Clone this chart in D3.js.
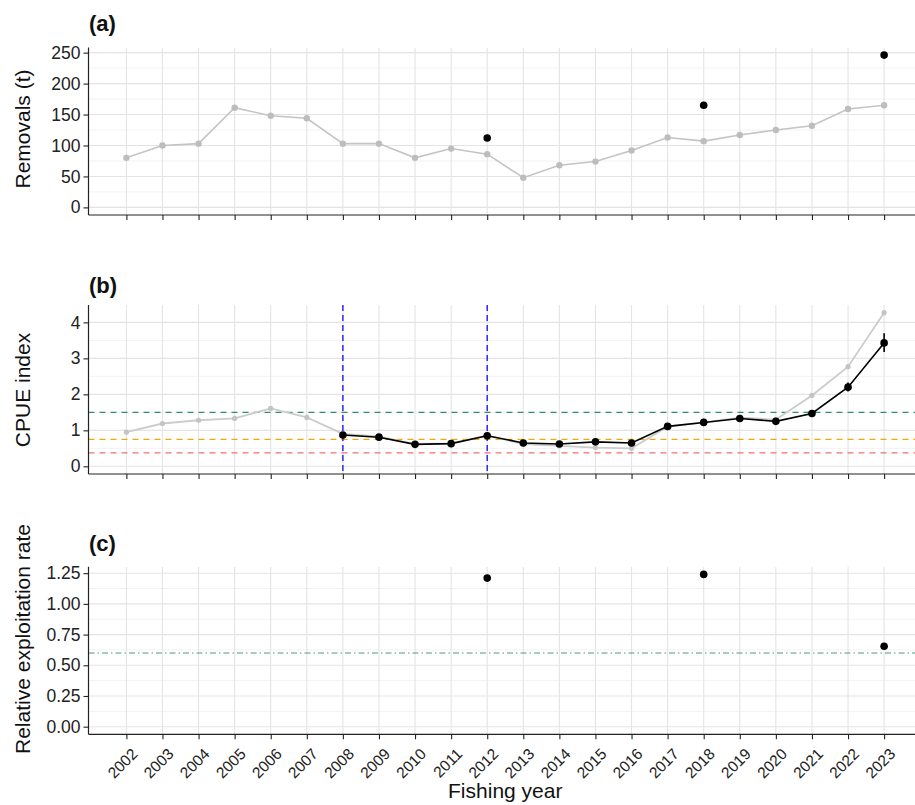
<!DOCTYPE html>
<html>
<head>
<meta charset="utf-8">
<script src="https://cdn.jsdelivr.net/npm/d3@7"></script>
<style>
  html, body { margin: 0; padding: 0; background: #fff; }
  svg text { font-family: "Liberation Sans", Arial, Helvetica, sans-serif; }
</style>
</head>
<body>
<svg id="chart" width="915" height="805"></svg>
<script>
// ---------------- data ----------------
const years = [2002,2003,2004,2005,2006,2007,2008,2009,2010,2011,2012,2013,2014,2015,2016,2017,2018,2019,2020,2021,2022,2023];
const yearLabels = years.map(String);

// (a) removals
const removals = [80,100,103,161,148,144,103,103,80,95,86,48,68,74,92,113,107,117,125,132,159,165];
const removalsHiYears = [2012, 2018, 2023];
const removalsHi = [112, 165, 246];
const removalsTicks = [0, 50, 100, 150, 200, 250];
const removalsMinor = [25, 75, 125, 175, 225];

// (b) CPUE
const cpueAll = [0.95,1.19,1.28,1.33,1.61,1.36,0.90,0.83,0.62,0.64,0.86,0.62,0.57,0.52,0.50,1.10,1.22,1.35,1.30,1.97,2.77,4.27];
const cpueYears = [2008,2009,2010,2011,2012,2013,2014,2015,2016,2017,2018,2019,2020,2021,2022,2023];
const cpue      = [0.87,0.81,0.61,0.63,0.85,0.65,0.62,0.68,0.65,1.11,1.22,1.33,1.25,1.47,2.20,3.43];
const cpueLow   = [0.82,0.77,0.57,0.59,0.80,0.61,0.58,0.64,0.60,1.06,1.17,1.28,1.20,1.41,2.08,3.18];
const cpueHigh  = [0.92,0.86,0.66,0.68,0.90,0.70,0.66,0.73,0.70,1.16,1.27,1.38,1.30,1.54,2.33,3.70];
const cpueTicks = [0, 1, 2, 3, 4];
const cpueMinor = [0.5, 1.5, 2.5, 3.5];
const cpueRefs = [1.5, 0.75, 0.375];
const cpueRefColors = ["#2f8f6f", "#f2aa00", "#f07070"];
const cpueBreakYears = [2008, 2012];

// (c) relative exploitation
const explYears = [2012, 2018, 2023];
const expl = [1.21, 1.24, 0.655];
const explRef = 0.6;
const explTicks = [0, 0.25, 0.5, 0.75, 1.0, 1.25];
const explMinor = [0.125, 0.375, 0.625, 0.875, 1.125];

// ---------------- layout ----------------
const svg = d3.select("#chart");
const left = 88.5, right = 922;
const x = d3.scaleLinear().domain([2002 - 1.05, 2023 + 1.05]).range([left, right]);

function expandDomain(lo, hi) {
  const e = (hi - lo) * 0.05;
  return [lo - e, hi + e];
}

const panels = [
  { top: 47.5, h: 167.5, domain: expandDomain(0, d3.max(removalsHi)), ticks: removalsTicks, minor: removalsMinor,
    fmt: d3.format("d"), title: "(a)", titleY: 31, ylab: "Removals (t)", ylabY: 129 },
  { top: 305, h: 169, domain: expandDomain(0, d3.max(cpueAll)), ticks: cpueTicks, minor: cpueMinor,
    fmt: d3.format("d"), title: "(b)", titleY: 293, ylab: "CPUE index", ylabY: 390 },
  { top: 566.8, h: 167.5, domain: expandDomain(0, d3.max(expl)), ticks: explTicks, minor: explMinor,
    fmt: d3.format(".2f"), title: "(c)", titleY: 551, ylab: "Relative exploitation rate", ylabY: 639 }
];

const clipId = (i) => "clip" + i;
const defs = svg.append("defs");

panels.forEach((p, i) => {
  p.y = d3.scaleLinear().domain(p.domain).range([p.top + p.h, p.top]);
  defs.append("clipPath").attr("id", clipId(i))
    .append("rect").attr("x", left).attr("y", p.top).attr("width", right - left).attr("height", p.h);

  const g = svg.append("g");
  const grid = g.append("g").attr("clip-path", `url(#${clipId(i)})`);
  grid.selectAll("line.minor").data(p.minor).join("line")
    .attr("x1", left).attr("x2", right)
    .attr("y1", d => p.y(d)).attr("y2", d => p.y(d))
    .attr("stroke", "#f1f1f1").attr("stroke-width", 0.9);
  grid.selectAll("line.hmaj").data(p.ticks).join("line")
    .attr("x1", left).attr("x2", right)
    .attr("y1", d => p.y(d)).attr("y2", d => p.y(d))
    .attr("stroke", "#e4e4e4").attr("stroke-width", 1.1);
  grid.selectAll("line.vmaj").data(years).join("line")
    .attr("x1", d => x(d)).attr("x2", d => x(d))
    .attr("y1", p.top).attr("y2", p.top + p.h)
    .attr("stroke", "#e4e4e4").attr("stroke-width", 1.1);

  p.g = g;
  p.plot = g.append("g").attr("clip-path", `url(#${clipId(i)})`);

  const ya = g.append("g").attr("transform", `translate(${left},0)`)
    .call(d3.axisLeft(p.y).tickValues(p.ticks).tickFormat(p.fmt).tickSize(5).tickPadding(3));
  ya.select(".domain").attr("d", `M0,${p.top}V${p.top + p.h}`).attr("stroke", "#222").attr("stroke-width", 1.2);
  ya.selectAll(".tick line").attr("stroke", "#222").attr("stroke-width", 1.1);
  ya.selectAll(".tick text").attr("font-size", 17.5).attr("fill", "#222");

  const xa = g.append("g").attr("transform", `translate(0,${p.top + p.h})`)
    .call(d3.axisBottom(x).tickValues(years).tickFormat(i === 2 ? ((d, k) => yearLabels[k]) : "").tickSize(5));
  xa.select(".domain").attr("d", `M${left},0H${right}`).attr("stroke", "#222").attr("stroke-width", 1.2);
  xa.selectAll(".tick line").attr("stroke", "#222").attr("stroke-width", 1.1);
  if (i === 2) {
    xa.selectAll(".tick text")
      .attr("font-size", 15.5)
      .attr("fill", "#222")
      .attr("text-anchor", "end")
      .attr("dy", 0)
      .attr("transform", "translate(6,15) rotate(-45)");
  } else {
    xa.selectAll(".tick text").remove();
  }

  g.append("text").attr("x", 89).attr("y", p.titleY)
    .attr("font-size", 22).attr("font-weight", "bold").attr("fill", "#111").text(p.title);
  g.append("text")
    .attr("transform", `translate(30,${p.ylabY}) rotate(-90)`)
    .attr("text-anchor", "middle").attr("font-size", 21).attr("fill", "#111").text(p.ylab);
});

// ---------------- panel (a) ----------------
{
  const p = panels[0];
  const data = years.map((yr, k) => ({ yr, v: removals[k] }));
  p.plot.append("path").datum(data)
    .attr("fill", "none").attr("stroke", "#c4c4c4").attr("stroke-width", 1.6)
    .attr("d", d3.line().x(d => x(d.yr)).y(d => p.y(d.v)));
  p.plot.selectAll("circle.g").data(data).join("circle")
    .attr("cx", d => x(d.yr)).attr("cy", d => p.y(d.v)).attr("r", 3.2).attr("fill", "#bdbdbd");
  const hi = removalsHiYears.map((yr, k) => ({ yr, v: removalsHi[k] }));
  p.plot.selectAll("circle.b").data(hi).join("circle")
    .attr("cx", d => x(d.yr)).attr("cy", d => p.y(d.v)).attr("r", 3.8).attr("fill", "#000");
}

// ---------------- panel (b) ----------------
{
  const p = panels[1];
  cpueRefs.forEach((r, k) => {
    p.plot.append("line").attr("x1", left).attr("x2", right)
      .attr("y1", p.y(r)).attr("y2", p.y(r))
      .attr("stroke", cpueRefColors[k]).attr("stroke-width", 1.3).attr("stroke-dasharray", "6,5");
  });
  const all = years.map((yr, k) => ({ yr, v: cpueAll[k] }));
  p.plot.append("path").datum(all)
    .attr("fill", "none").attr("stroke", "#cccccc").attr("stroke-width", 1.8)
    .attr("d", d3.line().x(d => x(d.yr)).y(d => p.y(d.v)));
  p.plot.selectAll("circle.g").data(all).join("circle")
    .attr("cx", d => x(d.yr)).attr("cy", d => p.y(d.v)).attr("r", 2.6).attr("fill", "#c4c4c4");
  cpueBreakYears.forEach(yr => {
    p.plot.append("line").attr("x1", x(yr)).attr("x2", x(yr))
      .attr("y1", p.top).attr("y2", p.top + p.h)
      .attr("stroke", "#1a1aff").attr("stroke-width", 1.4).attr("stroke-dasharray", "6,4");
  });
  const std = cpueYears.map((yr, k) => ({ yr, v: cpue[k], lo: cpueLow[k], hi: cpueHigh[k] }));
  p.plot.selectAll("line.err").data(std).join("line")
    .attr("x1", d => x(d.yr)).attr("x2", d => x(d.yr))
    .attr("y1", d => p.y(d.lo)).attr("y2", d => p.y(d.hi))
    .attr("stroke", "#000").attr("stroke-width", 1.6);
  p.plot.append("path").datum(std)
    .attr("fill", "none").attr("stroke", "#000").attr("stroke-width", 1.6)
    .attr("d", d3.line().x(d => x(d.yr)).y(d => p.y(d.v)));
  p.plot.selectAll("circle.b").data(std).join("circle")
    .attr("cx", d => x(d.yr)).attr("cy", d => p.y(d.v)).attr("r", 3.8).attr("fill", "#000");
}

// ---------------- panel (c) ----------------
{
  const p = panels[2];
  p.plot.append("line").attr("x1", left).attr("x2", right)
    .attr("y1", p.y(explRef)).attr("y2", p.y(explRef))
    .attr("stroke", "#4f9a86").attr("stroke-width", 1.1).attr("stroke-dasharray", "6,3,1.5,3");
  const pts = explYears.map((yr, k) => ({ yr, v: expl[k] }));
  p.plot.selectAll("circle.b").data(pts).join("circle")
    .attr("cx", d => x(d.yr)).attr("cy", d => p.y(d.v)).attr("r", 3.8).attr("fill", "#000");
}

svg.append("text").attr("x", (left + right) / 2).attr("y", 797.5)
  .attr("text-anchor", "middle").attr("font-size", 21).attr("fill", "#111").text("Fishing year");
</script>
</body>
</html>
